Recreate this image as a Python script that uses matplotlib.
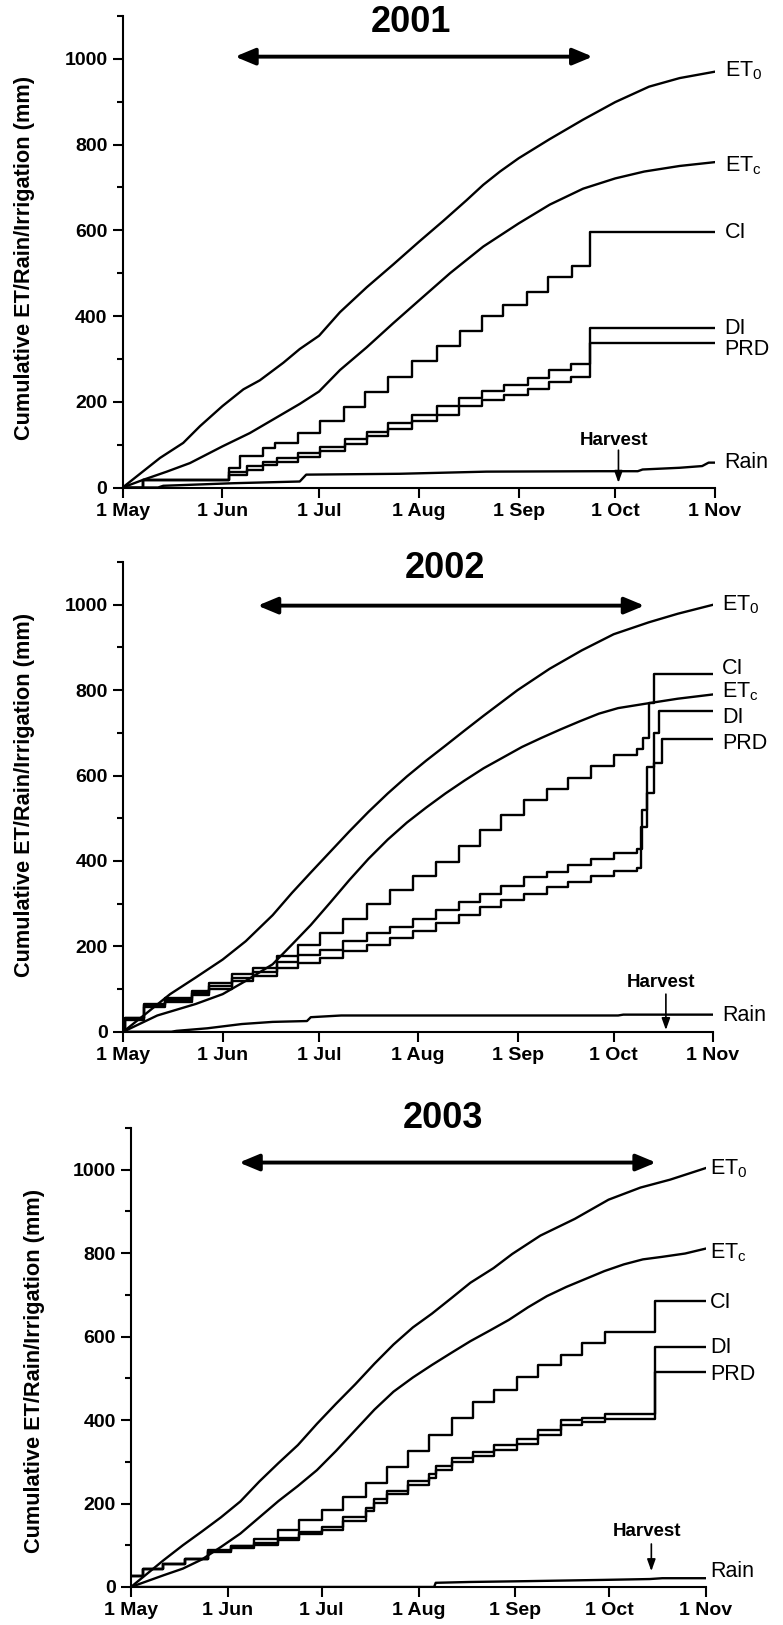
import matplotlib
matplotlib.use('Agg')
import matplotlib.pyplot as plt
from matplotlib.ticker import MultipleLocator

plt.rcParams['font.family'] = ['Liberation Sans', 'DejaVu Sans']
plt.rcParams['mathtext.fontset'] = 'custom'
plt.rcParams['mathtext.rm'] = 'Liberation Sans'
plt.rcParams['axes.linewidth'] = 1.5

# x axis: days after 1 May
month_labels = ['1 May', '1 Jun', '1 Jul', '1 Aug', '1 Sep', '1 Oct', '1 Nov']
month_days = [0, 31, 61, 92, 123, 153, 184]
years = ['2001', '2002', '2003']

# ---- 2001 ----
et0_2001_day = [0, 11.6, 18.8, 24, 31, 37.5, 42.6, 49.9, 55, 61, 67.5, 75.8, 84, 92, 99.6, 106.8, 112,
                117.2, 123, 132.5, 143, 153, 163.5, 173, 184]
et0_2001 = [0, 69, 104, 143, 190, 229, 250, 291, 323, 354, 409, 467, 520, 573, 622, 670, 706,
            737, 768, 812, 858, 899, 935, 955, 970]
etc_2001_day = [0, 6.4, 13.7, 20.9, 31, 39.5, 46.8, 55, 61, 67.5, 75.8, 84, 92, 101.7, 112, 123,
                132.7, 143, 153, 162, 173, 184]
etc_2001 = [0, 18, 37, 57, 96, 127, 159, 195, 224, 274, 327, 383, 436, 500, 562, 616,
            660, 697, 721, 737, 750, 759]
ci_2001_day = [0, 6.4, 33.1, 36.4, 43.7, 47.3, 54.5, 61.3, 68.6, 75.3, 82.5, 89.8, 97.5, 104.8,
               111.5, 118.2, 125.5, 132.2, 139.5, 145.2, 184]
ci_2001 = [0, 18, 45, 74, 93, 104, 128, 154, 188, 223, 258, 295, 330, 366,
           401, 425, 455, 490, 516, 595, 595]
dp_2001_day = [0, 6.4, 33.1, 38.5, 43.7, 47.8, 54.6, 61.3, 68.9, 75.8, 82.5, 89.8, 97.5, 104.6,
               111.5, 118.6, 125.8, 132.5, 139.3, 145.2, 184]
di_2001 = [0, 18, 37, 49, 60, 68, 80, 95, 112, 130, 151, 169, 189, 208,
           226, 239, 255, 274, 288, 372, 372]
prd_2001 = [0, 18, 28, 40, 52, 60, 72, 84, 102, 119, 136, 154, 169, 189,
            204, 216, 229, 245, 257, 336, 336]
rain_2001_day = [0, 11, 12.6, 34.4, 55, 57, 86, 113, 148, 160, 161.5, 173, 180, 182, 184]
rain_2001 = [0, 0, 4, 10, 14, 30, 32, 37, 38, 38, 42, 46, 50, 58, 58]

# ---- 2002 ----
et0_2002_day = [0, 7, 14.6, 22.6, 31, 38.2, 46.6, 52.6, 58.5, 64.5, 70.5, 76.5, 82.5, 88.5, 94.5,
                100.5, 106.4, 112.4, 123, 133, 143, 153, 164, 173, 184]
et0_2002 = [0, 42, 88, 127, 169, 212, 273, 325, 373, 421, 469, 515, 558, 598, 635,
            670, 705, 740, 800, 850, 893, 931, 959, 979, 1000]
etc_2002_day = [0, 10.6, 22.6, 31, 38.2, 46.6, 52.6, 58.5, 64.5, 70.5, 76.5, 82.5, 88.5, 94.5,
                100.5, 106.4, 112.4, 118.4, 124.4, 130.4, 136.4, 142.4, 148.4, 154.4, 162.7, 173, 184]
etc_2002 = [0, 38, 65, 88, 119, 158, 204, 250, 302, 355, 405, 450, 490, 525,
            558, 588, 617, 642, 667, 688, 708, 727, 745, 758, 768, 780, 790]
ci_2002_day = [0, 0.5, 6.4, 13, 21.4, 26.8, 34, 40.6, 47.8, 54.4, 61.5, 68.7, 75.9, 83.1, 90.3,
               97.5, 104.7, 111.2, 117.8, 125, 132.2, 138.8, 146, 153.2, 160.3, 162.1, 164, 165.6, 184]
ci_2002 = [0, 31, 64, 78, 96, 113, 135, 150, 177, 204, 231, 264, 298, 331, 365,
           398, 435, 472, 508, 542, 568, 595, 622, 648, 662, 688, 770, 838, 838]
di_2002_day = [0, 0.5, 6.4, 13, 21.4, 26.8, 34, 40.6, 47.8, 54.4, 61.5, 68.7, 75.9, 83.1, 90.3,
               97.5, 104.7, 111.2, 117.8, 125, 132.2, 138.8, 146, 153.2, 160.3, 162, 163.5, 165.5, 167, 184]
di_2002 = [0, 31, 62, 74, 90, 106, 125, 140, 164, 179, 192, 213, 231, 246, 265,
           285, 304, 323, 342, 362, 375, 390, 404, 418, 427, 519, 620, 700, 752, 752]
prd_2002_day = [0, 0.5, 6.4, 13, 21.4, 26.8, 34, 40.6, 47.8, 54.4, 61.5, 68.7, 75.9, 83.1, 90.3,
                97.5, 104.7, 111.2, 117.8, 125, 132.2, 138.8, 146, 153.2, 160.3, 161.5, 163.5, 165.5, 168, 184]
prd_2002 = [0, 28, 58, 70, 85, 100, 118, 130, 150, 162, 173, 190, 204, 219, 237,
            254, 273, 291, 308, 323, 338, 350, 365, 377, 383, 480, 560, 630, 685, 685]
rain_2002_day = [0, 15, 16.6, 26.2, 37, 46.6, 57.3, 58.5, 68, 154.4, 156, 184]
rain_2002 = [0, 0, 2, 8, 18, 23, 25, 34, 38, 38, 40, 40]

# ---- 2003 ----
et0_2003_day = [0, 10.4, 16.6, 22.7, 28.8, 35, 41.1, 47.2, 53.4, 59.5, 65.6, 71.8, 77.9, 84, 90.2,
                96.3, 102.5, 108.6, 116, 122, 131, 142, 152.8, 163, 172.5, 184]
et0_2003 = [0, 64, 100, 133, 167, 205, 253, 297, 340, 391, 439, 486, 535, 581, 622,
            655, 692, 729, 764, 798, 842, 882, 928, 957, 976, 1004]
etc_2003_day = [0, 10.4, 16.6, 22.7, 28.8, 35, 41.1, 47.2, 53.4, 59.5, 65.6, 71.8, 77.9, 84, 90.2,
                96.3, 102.5, 108.6, 114.7, 120.9, 127, 133.1, 139.3, 145.4, 151.5, 157.7, 163.8,
                169.9, 177.3, 184]
etc_2003 = [0, 28, 44, 66, 96, 128, 167, 206, 242, 280, 326, 376, 425, 468, 502,
            532, 561, 589, 614, 640, 670, 697, 719, 738, 757, 773, 785,
            791, 799, 811]
ci_2003_day = [0, 3.7, 10.4, 17.4, 24.5, 31.9, 39.5, 46.9, 53.6, 61, 67.9, 75.1, 81.8, 88.6, 95.3,
               102.7, 109.4, 116.3, 123.6, 130.3, 137.7, 144.4, 151.8, 167.7, 184]
ci_2003 = [26, 42, 54, 68, 88, 99, 115, 137, 160, 184, 215, 248, 287, 326, 365,
           405, 443, 473, 502, 531, 557, 585, 610, 685, 685]
dp_2003_day = [0, 3.7, 10.4, 17.4, 24.5, 31.9, 39.5, 46.9, 53.6, 61, 67.9, 75.1, 77.8, 81.8, 88.6,
               95.3, 97.5, 102.7, 109.4, 116.3, 123.6, 130.3, 137.7, 144.4, 151.8, 167.7, 184]
di_2003 = [26, 42, 54, 68, 86, 97, 105, 118, 131, 144, 167, 190, 210, 231, 253,
           271, 289, 309, 324, 340, 354, 377, 399, 405, 415, 575, 575]
prd_2003 = [26, 42, 54, 68, 84, 93, 101, 113, 127, 137, 157, 182, 202, 222, 245,
            261, 281, 299, 315, 328, 342, 365, 388, 395, 403, 514, 514]
rain_2003_day = [0, 97, 97.5, 108.6, 127, 151.5, 166, 170, 184]
rain_2003 = [0, 0, 10, 12, 14, 17, 19, 21, 21]

# irrigation season arrows (start day, end day) and harvest day
season = [(34.9, 146), (41.9, 162.6), (34.6, 168)]
harvest_day = [154, 169.3, 166.5]

series_labels = ['ET$_\\mathrm{0}$', 'ET$_\\mathrm{c}$', 'CI', 'DI', 'PRD', 'Rain']

panels = [
    dict(et0=(et0_2001_day, et0_2001), etc=(etc_2001_day, etc_2001), ci=(ci_2001_day, ci_2001),
         di=(dp_2001_day, di_2001), prd=(dp_2001_day, prd_2001), rain=(rain_2001_day, rain_2001)),
    dict(et0=(et0_2002_day, et0_2002), etc=(etc_2002_day, etc_2002), ci=(ci_2002_day, ci_2002),
         di=(di_2002_day, di_2002), prd=(prd_2002_day, prd_2002), rain=(rain_2002_day, rain_2002)),
    dict(et0=(et0_2003_day, et0_2003), etc=(etc_2003_day, etc_2003), ci=(ci_2003_day, ci_2003),
         di=(dp_2003_day, di_2003), prd=(dp_2003_day, prd_2003), rain=(rain_2003_day, rain_2003)),
]

# layout (figure fractions / data positions of annotations)
rects = [[0.1567, 0.700, 0.7565, 0.2902],
         [0.1575, 0.3651, 0.7531, 0.2890],
         [0.1673, 0.0234, 0.7344, 0.2825]]
label_x = [187, 186.8, 185.3]
label_y = [[972, 751, 594, 370, 323, 58],
           [1000, 796, 851, 736, 674, 39],
           [1002, 801, 682, 573, 509, 37]]
title_pos = [(89.6, 1085), (100.4, 1085), (99.8, 1122)]
arrow_y = [1005, 998, 1017]
harvest_text_y = [109, 115, 132]
harvest_arrow = [(87, 11), (88, 4), (103, 38)]
ylabel_pos = [(-0.148, 0.487), (-0.150, 0.504), (-0.150, 0.471)]

fig = plt.figure(figsize=(7.83, 16.25), dpi=100)

for i, p in enumerate(panels):
    ax = fig.add_axes(rects[i])
    lw = 1.7
    ax.plot(*p['et0'], color='k', lw=lw)
    ax.plot(*p['etc'], color='k', lw=lw)
    ax.step(*p['ci'], where='post', color='k', lw=lw)
    ax.step(*p['di'], where='post', color='k', lw=lw)
    ax.step(*p['prd'], where='post', color='k', lw=lw)
    ax.plot(*p['rain'], color='k', lw=lw)

    ax.set_xlim(0, 184)
    ax.set_ylim(0, 1100)
    ax.spines['top'].set_visible(False)
    ax.spines['right'].set_visible(False)
    ax.set_xticks(month_days)
    ax.set_xticklabels(month_labels)
    ax.set_yticks([0, 200, 400, 600, 800, 1000])
    ax.yaxis.set_minor_locator(MultipleLocator(100))
    ax.tick_params(which='major', direction='out', length=7, width=1.5, labelsize=14, pad=4)
    ax.tick_params(which='minor', direction='out', length=4, width=1.5)
    for t in ax.get_xticklabels() + ax.get_yticklabels():
        t.set_fontweight('bold')

    ax.set_ylabel('Cumulative ET/Rain/Irrigation (mm)', fontsize=15.7, fontweight='bold')
    ax.yaxis.set_label_coords(*ylabel_pos[i])

    for lab, yv in zip(series_labels, label_y[i]):
        ax.text(label_x[i], yv, lab, fontsize=15.5, ha='left', va='center', clip_on=False)

    ax.text(title_pos[i][0], title_pos[i][1], years[i], fontsize=26, fontweight='bold',
            ha='center', va='center', clip_on=False)

    s0, s1 = season[i]
    ax.annotate('', xy=(s1, arrow_y[i]), xytext=(s0, arrow_y[i]),
                arrowprops=dict(arrowstyle='<|-|>,head_length=0.6,head_width=0.25',
                                lw=2.8, color='k', mutation_scale=20, shrinkA=0, shrinkB=0))

    hd = harvest_day[i]
    ax.text(hd - 1.5, harvest_text_y[i], 'Harvest', fontsize=13.5, fontweight='bold',
            ha='center', va='center')
    ax.annotate('', xy=(hd, harvest_arrow[i][1]), xytext=(hd, harvest_arrow[i][0]),
                arrowprops=dict(arrowstyle='-|>,head_length=0.7,head_width=0.25',
                                lw=1.2, color='k', mutation_scale=10, shrinkA=0, shrinkB=0))

fig.savefig('out.png', dpi=100)
